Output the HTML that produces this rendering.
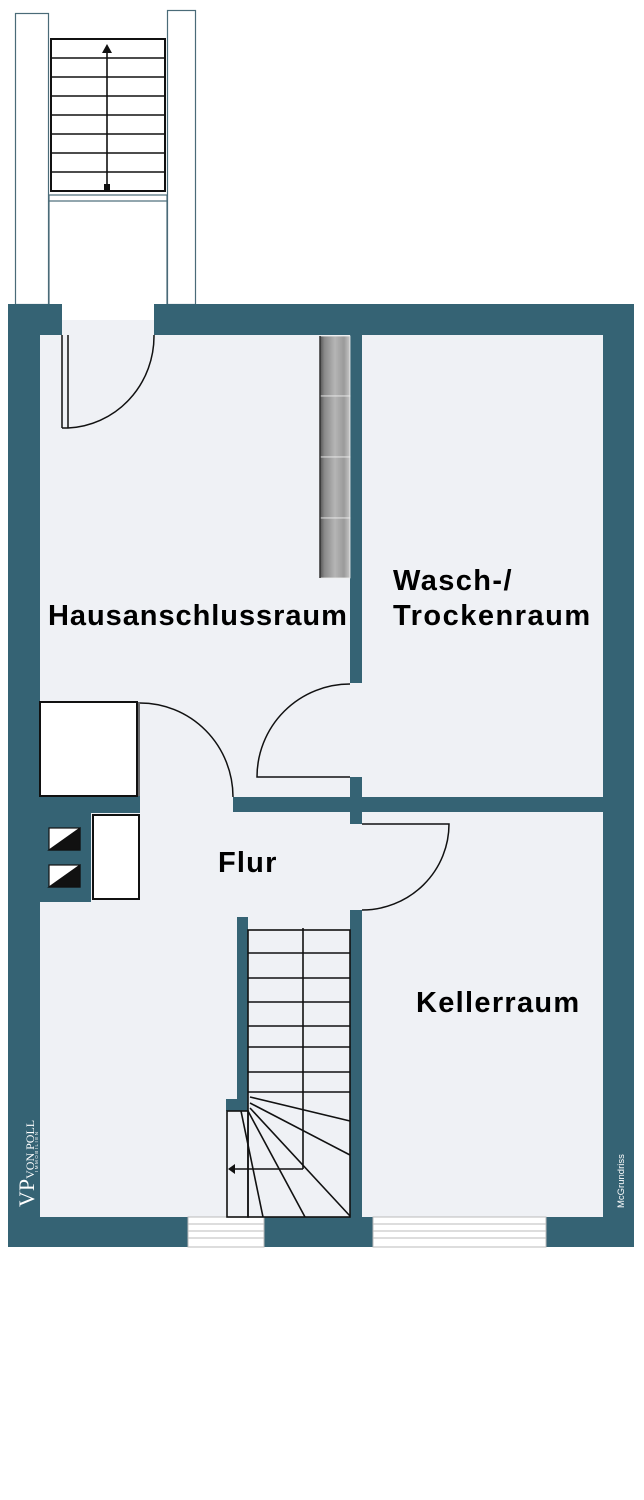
<!DOCTYPE html>
<html><head><meta charset="utf-8"><style>
html,body{margin:0;padding:0;background:#fff;}
svg{display:block;}
text{font-family:"Liberation Sans",Arial,sans-serif;}
</style></head><body>
<svg width="644" height="1500" viewBox="0 0 644 1500" xmlns="http://www.w3.org/2000/svg">
<defs>
<linearGradient id="rad" x1="0" x2="1" y1="0" y2="0">
<stop offset="0" stop-color="#555"/><stop offset="0.15" stop-color="#8a8a8a"/><stop offset="0.5" stop-color="#b5b5b5"/><stop offset="0.8" stop-color="#9a9a9a"/><stop offset="1" stop-color="#c8c8c8"/>
</linearGradient>
</defs>
<rect width="644" height="1500" fill="#fff"/>
<!-- outdoor stairs -->
<rect x="15.5" y="13.5" width="33" height="291" fill="#fff" stroke="#4a6b78" stroke-width="1.2"/>
<rect x="167.5" y="10.5" width="28" height="294" fill="#fff" stroke="#4a6b78" stroke-width="1.2"/>
<rect x="49" y="195" width="118" height="6" fill="#fff" stroke="#4a6b78" stroke-width="1.2"/>
<line x1="49" y1="201" x2="49" y2="304" stroke="#4a6b78" stroke-width="1.2"/>
<line x1="167" y1="201" x2="167" y2="304" stroke="#4a6b78" stroke-width="1.2"/>
<rect x="51" y="39" width="114" height="152" fill="#fff" stroke="#111" stroke-width="2"/>
<g stroke="#111" stroke-width="1.6">
<line x1="51" y1="58" x2="165" y2="58"/><line x1="51" y1="77" x2="165" y2="77"/><line x1="51" y1="96" x2="165" y2="96"/><line x1="51" y1="115" x2="165" y2="115"/><line x1="51" y1="134" x2="165" y2="134"/><line x1="51" y1="153" x2="165" y2="153"/><line x1="51" y1="172" x2="165" y2="172"/>
<line x1="107" y1="52" x2="107" y2="188"/>
</g>
<polygon points="107,44 102,53 112,53" fill="#111"/>
<rect x="104" y="184" width="6" height="6" fill="#111"/>
<!-- interior floor -->
<rect x="40" y="335" width="563" height="882" fill="#eff1f5"/>
<rect x="62" y="320" width="92" height="15" fill="#eff1f5"/>
<!-- outer walls -->
<g fill="#356374">
<rect x="8" y="304" width="54" height="31"/>
<rect x="154" y="304" width="480" height="31"/>
<rect x="8" y="304" width="32" height="943"/>
<rect x="603" y="304" width="31" height="943"/>
<rect x="8" y="1217" width="626" height="30"/>
<rect x="350" y="335" width="12" height="348"/>
<rect x="350" y="777" width="12" height="47"/>
<rect x="233" y="797" width="370" height="15"/>
<rect x="350" y="910" width="12" height="307"/>
<rect x="40" y="796" width="51" height="106"/>
<rect x="40" y="796" width="100" height="17"/>
<rect x="237" y="917" width="11" height="182"/>
<rect x="226" y="1099" width="22" height="12"/>
</g>
<!-- windows -->
<g fill="#fff" stroke="#bbb" stroke-width="1">
<rect x="188" y="1217" width="76" height="30"/>
<rect x="373" y="1217" width="173" height="30"/>
</g>
<g stroke="#bbb" stroke-width="1">
<line x1="188" y1="1224" x2="264" y2="1224"/><line x1="188" y1="1231" x2="264" y2="1231"/><line x1="188" y1="1238" x2="264" y2="1238"/>
<line x1="373" y1="1224" x2="546" y2="1224"/><line x1="373" y1="1231" x2="546" y2="1231"/><line x1="373" y1="1238" x2="546" y2="1238"/>
</g>
<!-- radiator -->
<g fill="url(#rad)" stroke="#eee" stroke-width="0.8">
<rect x="320" y="336" width="30" height="60"/><rect x="320" y="396" width="30" height="61"/><rect x="320" y="457" width="30" height="61"/><rect x="320" y="518" width="30" height="60"/>
</g>
<line x1="320" y1="336" x2="320" y2="578" stroke="#333" stroke-width="1.5"/>
<!-- doors -->
<g fill="none" stroke="#111" stroke-width="1.5">
<line x1="62" y1="335" x2="62" y2="428"/><line x1="68" y1="335" x2="68" y2="428"/>
<line x1="62" y1="428" x2="68" y2="428"/>
<path d="M68 428 A90 92 0 0 0 154 335"/>
<path d="M140 703 A93 94 0 0 1 233 797"/>
<path d="M350 684 A93 93 0 0 0 257 777 L350 777"/>
<path d="M362 824 L449 824 A87 86 0 0 1 362 910"/>
</g>
<!-- boxes -->
<rect x="40" y="702" width="97" height="94" fill="#fff" stroke="#111" stroke-width="2"/>
<line x1="139" y1="702" x2="139" y2="796" stroke="#111" stroke-width="1.2"/>
<rect x="93" y="815" width="46" height="84" fill="#fff" stroke="#111" stroke-width="2"/>
<g stroke="#111" stroke-width="1.2">
<rect x="49" y="828" width="31" height="22" fill="#fff"/><polygon points="80,828 80,850 49,850" fill="#111"/>
<rect x="49" y="865" width="31" height="22" fill="#fff"/><polygon points="80,865 80,887 49,887" fill="#111"/>
</g>
<!-- inner stairs -->
<g fill="none" stroke="#111" stroke-width="1.6">
<rect x="248" y="930" width="102" height="287"/>
<rect x="227" y="1111" width="21" height="106"/>
<line x1="248" y1="953" x2="350" y2="953"/><line x1="248" y1="978" x2="350" y2="978"/><line x1="248" y1="1002" x2="350" y2="1002"/><line x1="248" y1="1026" x2="350" y2="1026"/><line x1="248" y1="1047" x2="350" y2="1047"/><line x1="248" y1="1072" x2="350" y2="1072"/><line x1="248" y1="1092" x2="350" y2="1092"/>
<line x1="303" y1="928" x2="303" y2="1169"/><line x1="303" y1="1169" x2="234" y2="1169"/>
<line x1="250" y1="1097" x2="350" y2="1121"/>
<line x1="250" y1="1103" x2="350" y2="1155"/>
<line x1="250" y1="1108" x2="350" y2="1216"/>
<line x1="248" y1="1111" x2="305" y2="1217"/>
<line x1="241" y1="1111" x2="263" y2="1217"/>
</g>
<polygon points="228,1169 235,1164 235,1174" fill="#111"/>
<!-- labels -->
<g font-weight="bold" font-size="29" fill="#000">
<text x="48" y="625" letter-spacing="0.95">Hausanschlussraum</text>
<text x="393" y="590" letter-spacing="1.4">Wasch-/</text>
<text x="393" y="625" letter-spacing="1.5">Trockenraum</text>
<text x="218" y="872" letter-spacing="1.2">Flur</text>
<text x="416" y="1012" letter-spacing="1.3">Kellerraum</text>
</g>
<text transform="translate(34 1207) rotate(-90)" font-family="Liberation Serif,serif" style="font-family:'Liberation Serif',serif" font-size="22" fill="#fff">VP<tspan font-size="12">VON POLL</tspan></text>
<text transform="translate(38 1172) rotate(-90)" font-size="4.5" fill="#fff" letter-spacing="1.5">IMMOBILIEN</text>
<text transform="translate(624 1208) rotate(-90)" font-size="9.5" fill="#fff">McGrundriss</text>
</svg>
</body></html>
